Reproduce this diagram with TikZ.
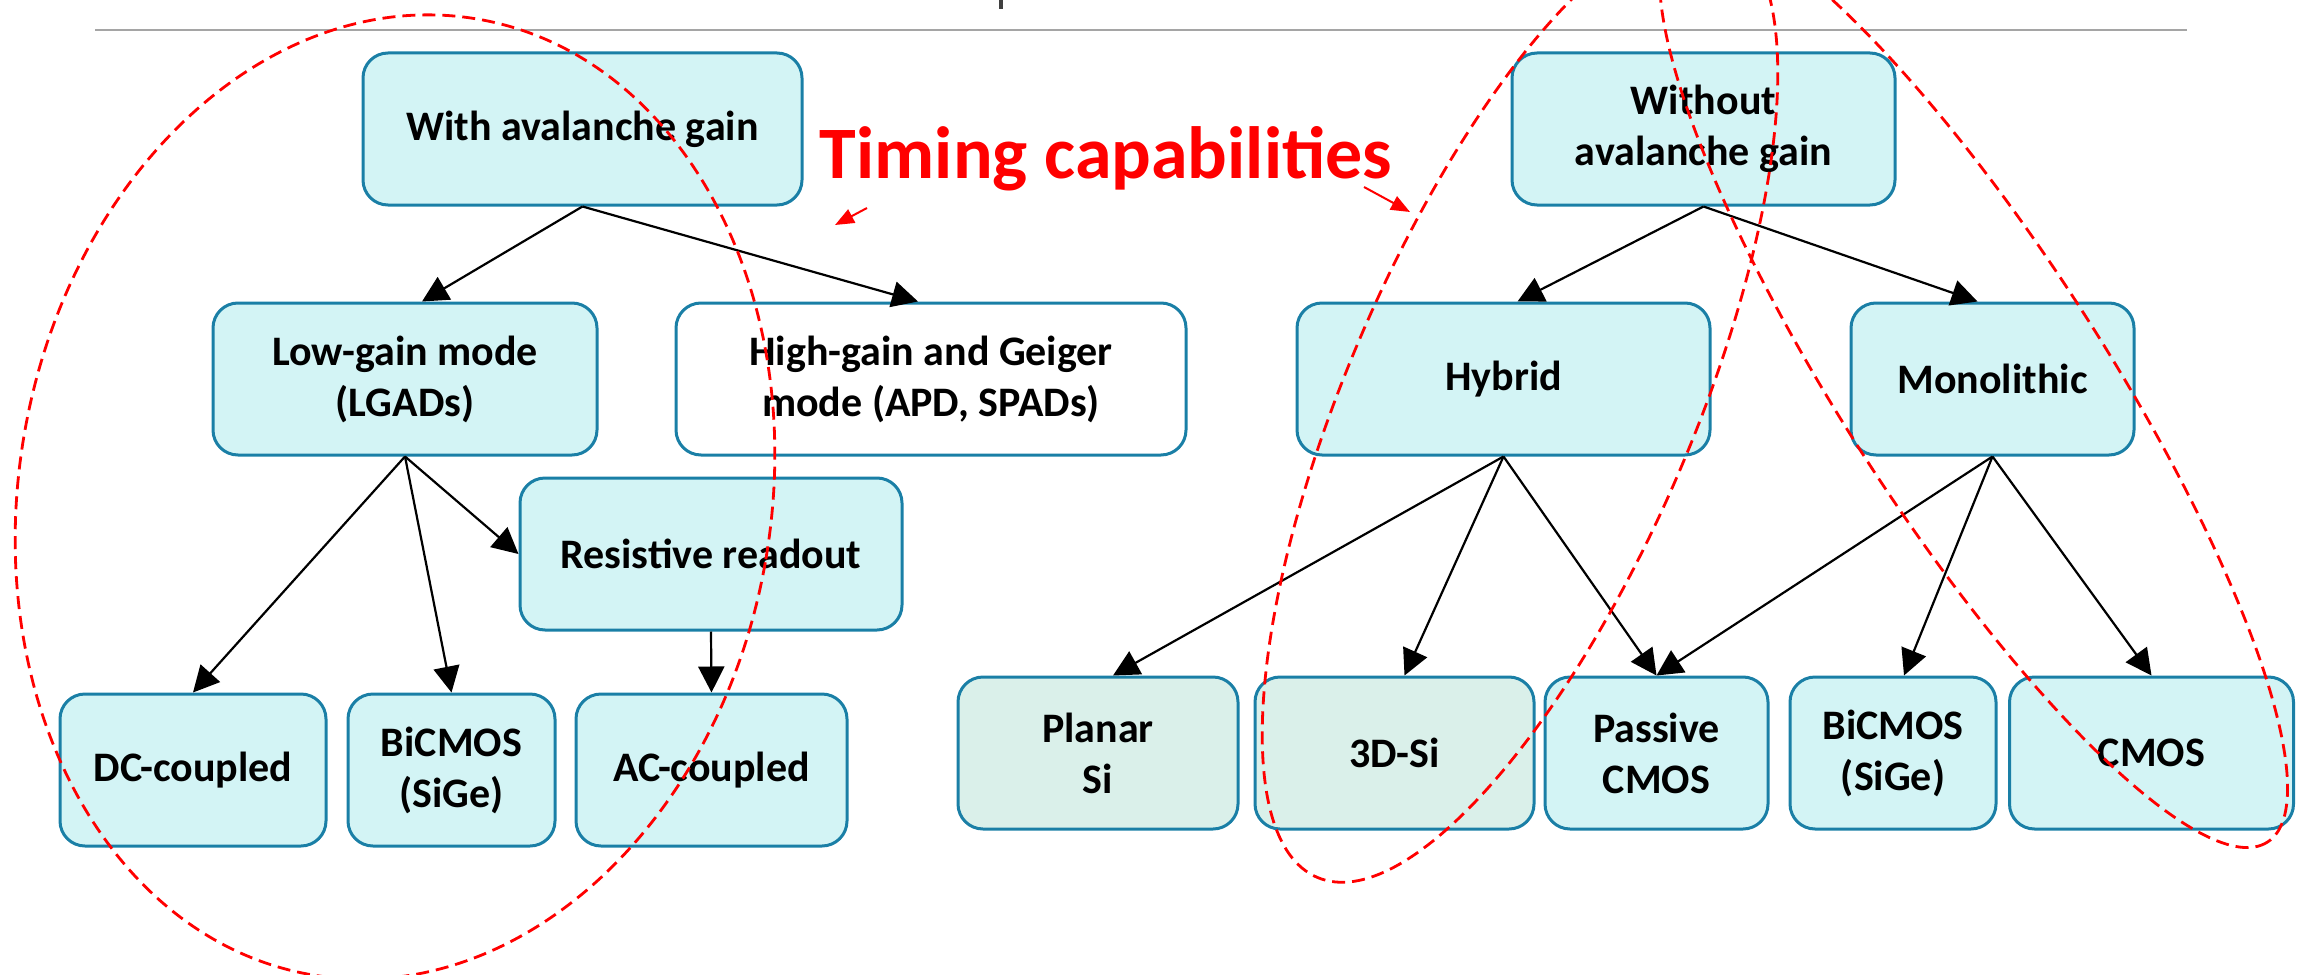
\documentclass[tikz,border=0pt]{standalone}
\usepackage{fontspec}
\setmainfont{Carlito}
\usetikzlibrary{arrows.meta}

\definecolor{boxline}{RGB}{26,127,166}
\definecolor{boxfill}{RGB}{211,244,245}
\definecolor{boxgreen}{RGB}{218,240,234}
\definecolor{rulegray}{RGB}{165,165,165}
\definecolor{glyphgray}{RGB}{64,64,64}

\begin{document}
\begin{tikzpicture}[x=0.5pt,y=-0.5pt,
  box/.style={draw=boxline, line width=1.5pt, fill=boxfill, rounded corners=12.5pt,
    minimum height=76pt, align=center, inner sep=2pt,
    font=\fontsize{21}{25.5}\selectfont\bfseries},
  greenbox/.style={box, fill=boxgreen},
  whitebox/.style={box, fill=white},
  link/.style={draw=black, line width=1.1pt, -{Triangle[length=13pt,width=13pt]}},
  loop/.style={draw=red, line width=1.4pt, dash pattern=on 6.5pt off 3.5pt},
  pointer/.style={draw=red, line width=1pt, -{Triangle[length=9.5pt,width=7.5pt]}},
]
\useasboundingbox (0,0) rectangle (2301,974);

% header rule and the tail of the cut-off heading
\draw[rulegray, line width=1pt] (95,30) -- (2187,30);
\fill[glyphgray] (999,0) rectangle (1003,9);

% with avalanche gain
\node[box, minimum width=219.5pt] (wa) at (582.5,129) {With avalanche gain};
\node[box, minimum width=192pt] (lg) at (405,379) {Low-gain mode\\(LGADs)};
\node[whitebox, minimum width=255pt] (hg) at (931,379) {High-gain and Geiger\\mode (APD, SPADs)};
\node[box, minimum width=191pt] (rr) at (711,554) {Resistive readout};
\node[box, minimum width=133pt] (dc) at (193,770) {DC-coupled};
\node[box, minimum width=103.5pt] (bl) at (451.5,770) {BiCMOS\\(SiGe)};
\node[box, minimum width=135.5pt] (ac) at (711.5,770) {AC-coupled};

% without avalanche gain
\node[box, minimum width=191.5pt] (wo) at (1703.5,129) {Without\\avalanche gain};
\node[box, minimum width=206.5pt] (hy) at (1503.5,379) {Hybrid};
\node[box, minimum width=141.5pt] (mo) at (1992.5,379) {Monolithic};
\node[greenbox, minimum width=140pt] (pl) at (1098,753) {Planar\\Si};
\node[greenbox, minimum width=139.5pt] (d3) at (1394.5,753) {3D-Si};
\node[box, minimum width=111.5pt] (pc) at (1656.5,753) {Passive\\CMOS};
\node[box, minimum width=103pt] (br) at (1893,753) {BiCMOS\\(SiGe)};
\node[box, minimum width=142pt] (cm) at (2151.5,753) {CMOS};

% tree connectors
\draw[link] (wa.south) -- ([xshift=8.5pt]lg.north);
\draw[link] (wa.south) -- ([xshift=-6.5pt]hg.north);
\draw[link] (lg.south) -- (dc.north);
\draw[link] (lg.south) -- (bl.north);
\draw[link] (lg.south) -- (rr.west);
\draw[link] (rr.south) -- (ac.north);
\draw[link] (wo.south) -- ([xshift=7pt]hy.north);
\draw[link] (wo.south) -- ([xshift=-7.5pt]mo.north);
\draw[link] (hy.south) -- ([xshift=7.5pt]pl.north);
\draw[link] (hy.south) -- ([xshift=5pt]d3.north);
\draw[link] (hy.south) -- (pc.north);
\draw[link] (mo.south) -- (pc.north);
\draw[link] (mo.south) -- ([xshift=5.5pt]br.north);
\draw[link] (mo.south) -- (cm.north);

% groupings with timing capabilities
\begin{scope}
  \clip (0,0) rectangle (2301,974);
  \draw[loop, rotate around={-10:(395,497)}] (395,497) ellipse [x radius=376, y radius=485];
  \draw[loop, rotate around={66.8:(1520,404)}] (1520,404) ellipse [x radius=515, y radius=173];
  \draw[loop, rotate around={-57.3:(1973.6,384.3)}] (1973.6,384.3) ellipse [x radius=544, y radius=131];
\end{scope}

% label and its pointers
\node[anchor=base, text=red, inner sep=0pt, font=\fontsize{37}{44}\selectfont\bfseries]
  (title) at (1106,178) {Timing capabilities};
\coordinate (pl1) at (867,208);
\coordinate (pl2) at (835,225);
\coordinate (pr1) at (1364,187);
\coordinate (pr2) at (1410,212);
\draw[pointer] (pl1) -- (pl2);
\draw[pointer] (pr1) -- (pr2);
\end{tikzpicture}
\end{document}
